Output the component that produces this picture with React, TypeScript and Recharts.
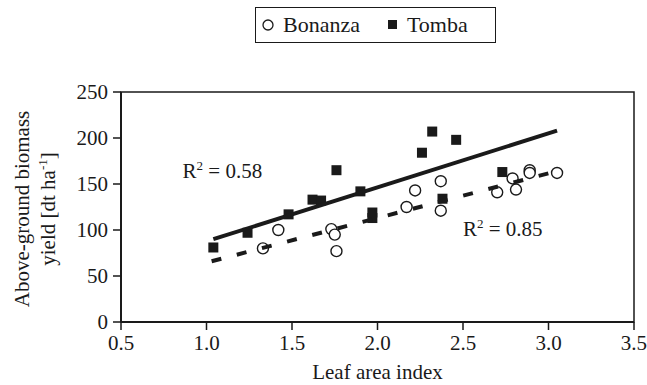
import React from 'react';
import {
  ScatterChart,
  Scatter,
  XAxis,
  YAxis,
  Legend,
  ReferenceArea,
  ReferenceDot,
  Label,
} from 'recharts';

const xTicks = [0.5, 1.0, 1.5, 2.0, 2.5, 3.0, 3.5];
const yTicks = [0, 50, 100, 150, 200, 250];

const bonanzaLai = [1.33, 1.42, 1.73, 1.75, 1.76, 2.17, 2.22, 2.37, 2.37, 2.7, 2.79, 2.81, 2.89, 2.89, 3.05];
const bonanzaYield = [80, 100, 101, 95, 77, 125, 143, 153, 121, 141, 156, 144, 165, 162, 162];

const tombaLai = [1.04, 1.24, 1.48, 1.62, 1.67, 1.76, 1.9, 1.97, 1.97, 2.26, 2.32, 2.46, 2.38, 2.73];
const tombaYield = [81, 97, 117, 133, 132, 165, 142, 119, 113, 184, 207, 198, 134, 163];

// regression lines, end points
const tombaFitLai = [1.04, 3.05];
const tombaFitYield = [90, 208];
const bonanzaFitLai = [1.03, 3.05];
const bonanzaFitYield = [66, 164];

const zip = (xs: number[], ys: number[]) => xs.map((x, i) => ({ x, y: ys[i] }));

const bonanza = zip(bonanzaLai, bonanzaYield);
const tomba = zip(tombaLai, tombaYield);
const tombaFit = zip(tombaFitLai, tombaFitYield);
const bonanzaFit = zip(bonanzaFitLai, bonanzaFitYield);

const FONT = '"Liberation Serif", "Times New Roman", Times, serif';
const INK = '#1a1a1a';

const Circle = (p: any) => (
  <circle cx={p.cx} cy={p.cy} r={5.5} fill="#fff" stroke={INK} strokeWidth={1.4} />
);
const Square = (p: any) => (
  <rect x={p.cx - 5} y={p.cy - 5} width={10} height={10} fill={INK} />
);
const Nothing = () => null;

const LegendBox = () => (
  <div
    style={{
      border: `1.5px solid ${INK}`,
      width: 241,
      height: 36,
      boxSizing: 'border-box',
      display: 'flex',
      alignItems: 'center',
      fontSize: 22,
      color: INK,
      background: '#fff',
    }}
  >
    <svg width={14} height={14} style={{ marginLeft: 5 }}>
      <circle cx={7} cy={7} r={5} fill="#fff" stroke={INK} strokeWidth={1.3} />
    </svg>
    <span style={{ marginLeft: 8 }}>Bonanza</span>
    <svg width={12} height={12} style={{ marginLeft: 27 }}>
      <rect x={1} y={1} width={9} height={9} fill={INK} />
    </svg>
    <span style={{ marginLeft: 8 }}>Tomba</span>
  </div>
);

const R2 = (value: string) => (props: any) => {
  const { viewBox } = props;
  const x = viewBox.x + (viewBox.width || 0) / 2;
  const y = viewBox.y + (viewBox.height || 0) / 2;
  return (
    <text x={x} y={y} fontSize={21} fill={INK}>
      <tspan>R</tspan>
      <tspan dy={-8} fontSize={13}>2</tspan>
      <tspan dy={8}>{` = ${value}`}</tspan>
    </text>
  );
};

const YTitle = (props: any) => {
  const { viewBox } = props;
  const cy = viewBox.y + viewBox.height / 2 + 2;
  return (
    <g fontSize={21} fill={INK}>
      <text x={29} y={cy} textAnchor="middle" transform={`rotate(-90 29 ${cy})`}>
        Above-ground biomass
      </text>
      <text x={55} y={cy} textAnchor="middle" transform={`rotate(-90 55 ${cy})`}>
        <tspan>yield [dt ha</tspan>
        <tspan dy={-8} fontSize={13}>-1</tspan>
        <tspan dy={8}>]</tspan>
      </text>
    </g>
  );
};

export default function App() {
  return (
    <div style={{ position: 'absolute', left: 0, top: 0, background: '#fff' }}>
      <style>{`#root, #root * , #root text, #root tspan { font-family: ${FONT} !important; }`}</style>
      <ScatterChart width={647} height={385} margin={{ top: 56, right: 13, bottom: 0, left: 0 }}>
        <XAxis
          type="number"
          dataKey="x"
          domain={[0.5, 3.5]}
          ticks={xTicks}
          tickFormatter={(v: number) => v.toFixed(1)}
          axisLine={{ stroke: INK, strokeWidth: 2 }}
          tickLine={{ stroke: INK, strokeWidth: 1.5 }}
          tickSize={8}
          tickMargin={5}
          tick={{ fill: INK, fontSize: 21 }}
          height={63}
          allowDataOverflow
        >
          <Label
            value="Leaf area index"
            position="insideBottom"
            offset={6}
            style={{ fill: INK, fontSize: 21 }}
          />
        </XAxis>
        <YAxis
          type="number"
          dataKey="y"
          domain={[0, 250]}
          ticks={yTicks}
          axisLine={{ stroke: INK, strokeWidth: 2 }}
          tickLine={{ stroke: INK, strokeWidth: 1.5 }}
          tickSize={8}
          tickMargin={5}
          tick={{ fill: INK, fontSize: 21 }}
          width={121}
          allowDataOverflow
        >
          <Label content={YTitle} />
        </YAxis>
        <ReferenceArea x1={0.5} x2={3.5} y1={0} y2={250} fill="none" stroke={INK} strokeWidth={1.5} />
        <Legend
          verticalAlign="top"
          content={() => <LegendBox />}
          wrapperStyle={{ top: 7, left: 255, width: 241 }}
        />
        <Scatter name="Bonanza" data={bonanza} shape={Circle} isAnimationActive={false} />
        <Scatter name="Tomba" data={tomba} shape={Square} isAnimationActive={false} />
        <Scatter
          name="Bonanza fit"
          data={bonanzaFit}
          shape={Nothing}
          line={{ stroke: INK, strokeWidth: 4, strokeDasharray: '10 16' }}
          legendType="none"
          isAnimationActive={false}
        />
        <Scatter
          name="Tomba fit"
          data={tombaFit}
          shape={Nothing}
          line={{ stroke: INK, strokeWidth: 4 }}
          legendType="none"
          isAnimationActive={false}
        />
        <ReferenceDot x={0.86} y={156} r={0} stroke="none" label={R2('0.58')} />
        <ReferenceDot x={2.5} y={94} r={0} stroke="none" label={R2('0.85')} />
      </ScatterChart>
    </div>
  );
}
